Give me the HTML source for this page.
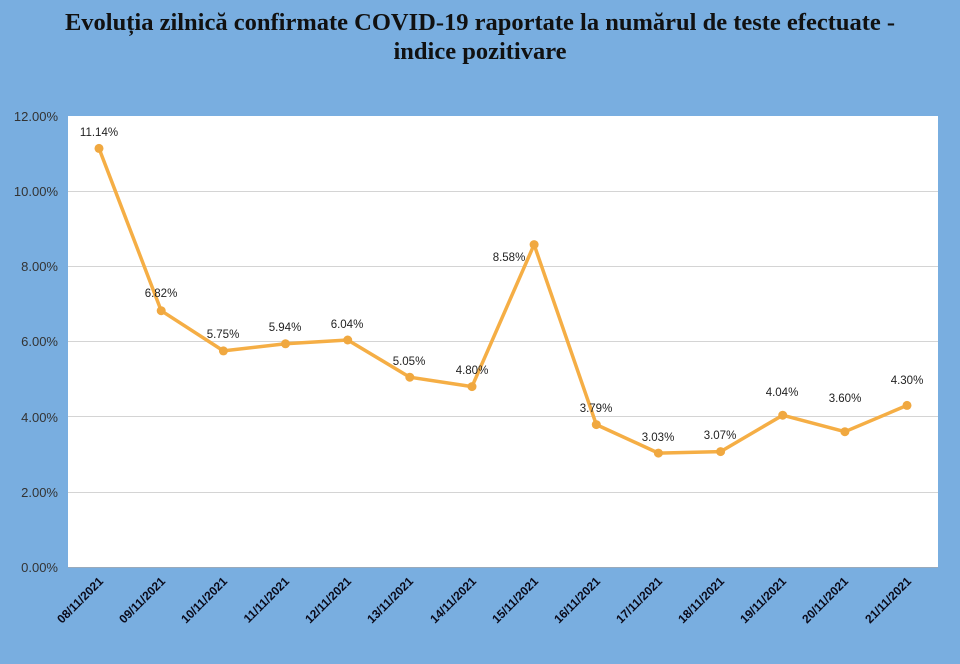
<!DOCTYPE html>
<html><head><meta charset="utf-8"><style>
body{margin:0;background:#79aee0;}
svg{display:block;}
</style></head><body>
<svg width="960" height="664" xmlns="http://www.w3.org/2000/svg" font-family="Liberation Sans, sans-serif">
<rect width="960" height="664" fill="#79aee0"/>
<text x="480" y="30" text-anchor="middle" font-family="Liberation Serif, serif" font-weight="bold" font-size="24.5" fill="#111">Evoluția zilnică confirmate COVID-19 raportate la numărul de teste efectuate -</text>
<text x="480" y="59" text-anchor="middle" font-family="Liberation Serif, serif" font-weight="bold" font-size="24.5" fill="#111">indice pozitivare</text>
<rect x="68" y="116" width="870" height="451" fill="#fff"/>
<g stroke="#d4d4d4" stroke-width="1">
<line x1="68" x2="938" y1="191.5" y2="191.5"/>
<line x1="68" x2="938" y1="266.5" y2="266.5"/>
<line x1="68" x2="938" y1="341.5" y2="341.5"/>
<line x1="68" x2="938" y1="416.5" y2="416.5"/>
<line x1="68" x2="938" y1="492.5" y2="492.5"/>
</g>
<line x1="68" x2="938" y1="567.5" y2="567.5" stroke="#9ab" />
<g font-size="13" fill="#333" text-anchor="end">
<text x="58" y="121">12.00%</text>
<text x="58" y="196">10.00%</text>
<text x="58" y="271">8.00%</text>
<text x="58" y="346">6.00%</text>
<text x="58" y="422">4.00%</text>
<text x="58" y="497">2.00%</text>
<text x="58" y="572">0.00%</text>
</g>
<polyline fill="none" stroke="#f5ae45" stroke-width="3.5" stroke-linejoin="round" points="99,148.4 161.2,310.7 223.4,350.9 285.5,343.8 347.7,340.0 409.8,377.2 472,386.6 534.1,244.6 596.3,424.6 658.4,453.1 720.6,451.6 782.7,415.2 844.9,431.7 907,405.4"/>
<g fill="#f0a840">
<circle cx="99" cy="148.4" r="4.5"/><circle cx="161.2" cy="310.7" r="4.5"/><circle cx="223.4" cy="350.9" r="4.5"/><circle cx="285.5" cy="343.8" r="4.5"/><circle cx="347.7" cy="340.0" r="4.5"/><circle cx="409.8" cy="377.2" r="4.5"/><circle cx="472" cy="386.6" r="4.5"/><circle cx="534.1" cy="244.6" r="4.5"/><circle cx="596.3" cy="424.6" r="4.5"/><circle cx="658.4" cy="453.1" r="4.5"/><circle cx="720.6" cy="451.6" r="4.5"/><circle cx="782.7" cy="415.2" r="4.5"/><circle cx="844.9" cy="431.7" r="4.5"/><circle cx="907" cy="405.4" r="4.5"/>
</g>
<g font-size="11.5" fill="#222" text-anchor="middle">
<text x="99" y="136">11.14%</text>
<text x="161" y="297">6.82%</text>
<text x="223" y="338">5.75%</text>
<text x="285" y="331">5.94%</text>
<text x="347" y="328">6.04%</text>
<text x="409" y="365">5.05%</text>
<text x="472" y="374">4.80%</text>
<text x="509" y="261">8.58%</text>
<text x="596" y="412">3.79%</text>
<text x="658" y="441">3.03%</text>
<text x="720" y="439">3.07%</text>
<text x="782" y="396">4.04%</text>
<text x="845" y="402">3.60%</text>
<text x="907" y="384">4.30%</text>
</g>
<g font-size="12" font-weight="bold" fill="#0a0a1a" text-anchor="end">
<text transform="translate(104,582) rotate(-45)">08/11/2021</text>
<text transform="translate(166,582) rotate(-45)">09/11/2021</text>
<text transform="translate(228,582) rotate(-45)">10/11/2021</text>
<text transform="translate(290,582) rotate(-45)">11/11/2021</text>
<text transform="translate(352,582) rotate(-45)">12/11/2021</text>
<text transform="translate(414,582) rotate(-45)">13/11/2021</text>
<text transform="translate(477,582) rotate(-45)">14/11/2021</text>
<text transform="translate(539,582) rotate(-45)">15/11/2021</text>
<text transform="translate(601,582) rotate(-45)">16/11/2021</text>
<text transform="translate(663,582) rotate(-45)">17/11/2021</text>
<text transform="translate(725,582) rotate(-45)">18/11/2021</text>
<text transform="translate(787,582) rotate(-45)">19/11/2021</text>
<text transform="translate(849,582) rotate(-45)">20/11/2021</text>
<text transform="translate(912,582) rotate(-45)">21/11/2021</text>
</g>
</svg>
</body></html>
